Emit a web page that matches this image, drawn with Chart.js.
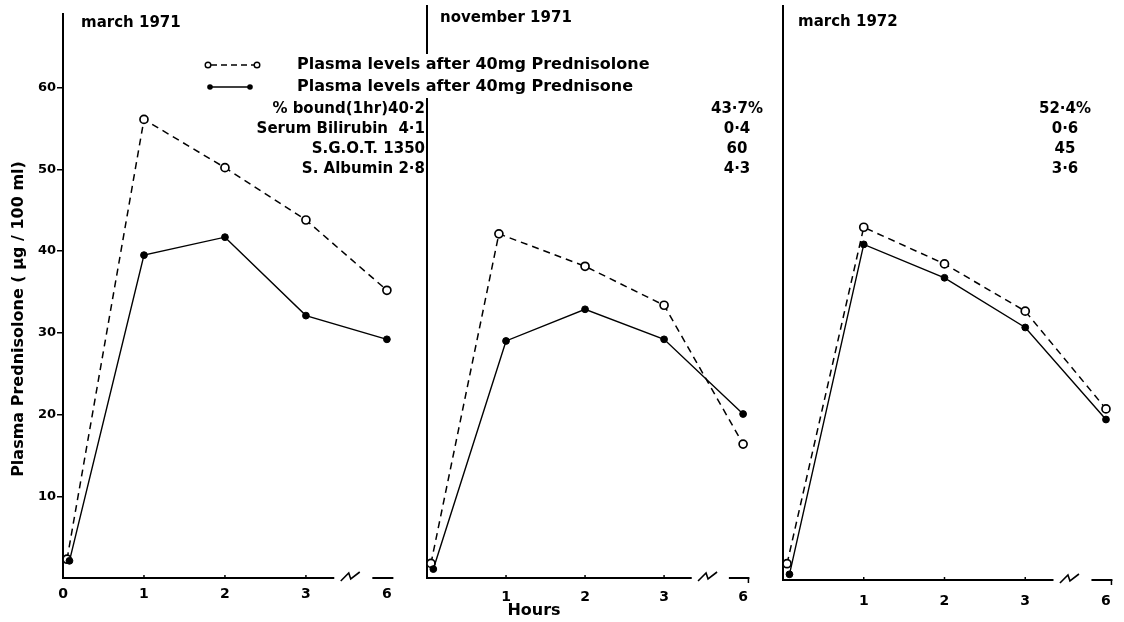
<!DOCTYPE html>
<html>
<head>
<meta charset="utf-8">
<script src="https://cdn.jsdelivr.net/npm/chart.js@4.4.0/dist/chart.umd.min.js"></script>
<style>
  html, body { margin: 0; padding: 0; background: #fff; overflow: hidden; }
  #wrap { position: relative; width: 1124px; height: 622px; background: #fff; }
  #wrap canvas { position: absolute; left: 0; top: 0; }
</style>
</head>
<body>
<div id="wrap">
  <canvas id="c3" width="1124" height="622"></canvas>
  <canvas id="c2" width="1124" height="622"></canvas>
  <canvas id="c1" width="1124" height="622"></canvas>
</div>
<script>
// ---------------- data ----------------
const hourLabels = ['0', '1', '2', '3', '6'];
const hourLabelsNoZero = ['', '1', '2', '3', '6'];
const prednisoloneHours = [0.05, 1, 2, 3, 6];
const prednisoneHours = [0.08, 1, 2, 3, 6];
const nov71PrednisoloneHours = [0.05, 0.91, 2, 3, 6];

const mar71Prednisolone = [2.3, 56.1, 50.2, 43.8, 35.2];
const mar71Prednisone   = [2.1, 39.5, 41.7, 32.1, 29.2];
const nov71Prednisolone = [1.8, 42.4, 38.4, 33.6, 16.5];
const nov71Prednisone   = [1.1, 29.2, 33.1, 29.4, 20.2];
const mar72Prednisolone = [2.0, 43.3, 38.8, 33.0, 21.0];
const mar72Prednisone   = [0.7, 41.2, 37.1, 31.0, 19.7];

const yTickValues = [10, 20, 30, 40, 50, 60];
const panelTitles = ['march 1971', 'november 1971', 'march 1972'];
const seriesLabels = ['Plasma levels after 40mg Prednisolone', 'Plasma levels after 40mg Prednisone'];
const boundPct   = ['% bound(1hr)40·2', '43·7%', '52·4%'];
const bilirubin  = ['Serum Bilirubin  4·1', '0·4', '0·6'];
const sgot       = ['S.G.O.T. 1350', '60', '45'];
const albumin    = ['S. Albumin 2·8', '4·3', '3·6'];
const yAxisTitle = 'Plasma Prednisolone ( µg / 100 ml)';
const xAxisTitle = 'Hours';

// ---------------- helpers ----------------
const FONT = '"DejaVu Sans", "Open Sans", sans-serif';
// broken time axis: hours beyond 3 are compressed so 6 h sits one step after 3 h
function axisPos(h) { return h <= 3 ? h : 3 + (h - 3) / 3; }
function pts(hours, vals) { return vals.map((v, i) => ({ x: axisPos(hours[i]), y: v })); }

const decor = {
  id: 'decor',
  afterDraw(chart, args, o) {
    const ctx = chart.ctx;
    const xs = chart.scales.x, ys = chart.scales.y;
    const y0 = ys.getPixelForValue(0);
    ctx.save();
    ctx.strokeStyle = '#000';
    ctx.fillStyle = '#000';
    ctx.lineCap = 'butt';
    // x axis (broken)
    ctx.lineWidth = 2;
    ctx.beginPath();
    ctx.moveTo(xs.getPixelForValue(0) - 1, y0);
    ctx.lineTo(xs.getPixelForValue(3.35), y0);
    ctx.stroke();
    ctx.lineWidth = 1.5;
    [1, 2, 3].forEach(v => {
      const px = xs.getPixelForValue(v);
      ctx.beginPath(); ctx.moveTo(px, y0); ctx.lineTo(px, y0 - 3); ctx.stroke();
    });
    // break mark
    const bx = xs.getPixelForValue(3.43);
    ctx.lineWidth = 1.6;
    ctx.beginPath();
    ctx.moveTo(bx, y0 + 3);
    ctx.lineTo(bx + 8, y0 - 5);
    ctx.lineTo(bx + 10, y0 + 1);
    ctx.lineTo(bx + 19, y0 - 6);
    ctx.stroke();
    // short segment up to 6 h
    ctx.lineWidth = 2;
    const sx = xs.getPixelForValue(3.82), ex = xs.getPixelForValue(4.08);
    ctx.beginPath(); ctx.moveTo(sx, y0); ctx.lineTo(ex, y0); ctx.stroke();
    if (o.endTick) {
      ctx.lineWidth = 1.5;
      ctx.beginPath(); ctx.moveTo(ex - 1, y0); ctx.lineTo(ex - 1, y0 + 5); ctx.stroke();
    }

    // legend + white mask (panel 1 canvas is on top)
    if (o.legend) {
      ctx.fillStyle = '#fff';
      ctx.fillRect(292, 54, 372, 44);
      ctx.fillStyle = '#000';
      // dashed symbol
      ctx.lineWidth = 1.4;
      ctx.setLineDash([6, 4]);
      ctx.beginPath(); ctx.moveTo(211, 65); ctx.lineTo(254, 65); ctx.stroke();
      ctx.setLineDash([]);
      [208, 257].forEach(cx => {
        ctx.beginPath(); ctx.arc(cx, 65, 2.8, 0, Math.PI * 2);
        ctx.fillStyle = '#fff'; ctx.fill(); ctx.lineWidth = 1.4; ctx.stroke();
      });
      ctx.fillStyle = '#000';
      ctx.lineWidth = 1.6;
      ctx.beginPath(); ctx.moveTo(210, 87); ctx.lineTo(250, 87); ctx.stroke();
      [210, 250].forEach(cx => { ctx.beginPath(); ctx.arc(cx, 87, 2.8, 0, Math.PI * 2); ctx.fill(); });
      ctx.font = 'bold 16px ' + FONT;
      ctx.textAlign = 'left'; ctx.textBaseline = 'middle';
      ctx.fillText(seriesLabels[0], 297, 65);
      ctx.fillText(seriesLabels[1], 297, 87);
      // y axis title
      ctx.save();
      ctx.translate(19, 319);
      ctx.rotate(-Math.PI / 2);
      ctx.textAlign = 'center';
      ctx.font = 'bold 16px ' + FONT;
      ctx.fillText(yAxisTitle, 0, 0);
      ctx.restore();
      // x axis title
      ctx.textAlign = 'center';
      ctx.font = 'bold 16px ' + FONT;
      ctx.fillText(xAxisTitle, 534, 611);
    }

    // panel title
    ctx.fillStyle = '#000';
    ctx.font = 'bold 15px ' + FONT;
    ctx.textAlign = 'left'; ctx.textBaseline = 'middle';
    ctx.fillText(o.title, o.titleX, o.titleY);
    // patient data column
    ctx.textAlign = o.infoAlign;
    const rows = [boundPct, bilirubin, sgot, albumin];
    rows.forEach((r, i) => ctx.fillText(r[o.index], o.infoX, 109 + i * 20));
    ctx.restore();
  }
};

function makeDatasets(hA, a, hB, b) {
  return [
    {
      label: seriesLabels[1], data: pts(hB, b), borderColor: '#000', borderWidth: 1.4,
      pointRadius: 3.4, pointBackgroundColor: '#000', pointBorderColor: '#000', pointBorderWidth: 1,
      fill: false, tension: 0, clip: false
    },
    {
      label: seriesLabels[0], data: pts(hA, a), borderColor: '#000', borderWidth: 1.5, borderDash: [7, 5],
      pointRadius: 4, pointBackgroundColor: '#fff', pointBorderColor: '#000', pointBorderWidth: 1.7,
      fill: false, tension: 0, clip: false
    }
  ];
}

// left/right/top/bottom = plot box in page pixels
function makePanel(canvasId, box, yMax, datasets, opts) {
  const yW = opts.showYTicks ? 45 : 0;
  const xH = 30;
  const xLabels = opts.xLabels;
  return new Chart(document.getElementById(canvasId), {
    type: 'line',
    data: { datasets },
    options: {
      responsive: false,
      animation: false,
      events: [],
      layout: { padding: { left: box.left - yW, right: 1124 - box.right, top: box.top, bottom: 622 - box.bottom - xH } },
      plugins: { legend: { display: false }, tooltip: { enabled: false }, decor: opts.decor },
      scales: {
        x: {
          type: 'linear', min: 0, max: 4.1,
          afterBuildTicks: s => { s.ticks = xLabels.map((l, i) => ({ value: i })); },
          afterFit: s => { s.height = xH; },
          grid: { display: false, drawTicks: false, tickLength: 0 },
          border: { display: false },
          ticks: {
            autoSkip: false, maxRotation: 0, padding: opts.xPad, color: '#000',
            font: { family: FONT, size: 14, weight: 'bold' },
            callback: (v, i) => xLabels[i]
          }
        },
        y: {
          type: 'linear', min: 0, max: yMax,
          afterBuildTicks: s => { s.ticks = opts.showYTicks ? yTickValues.map(v => ({ value: v })) : []; },
          afterFit: s => { s.width = yW; },
          grid: { display: opts.showYTicks, drawOnChartArea: false, drawTicks: true, tickLength: 6, color: '#000', lineWidth: 1.5 },
          border: { display: true, color: '#000', width: 2 },
          ticks: {
            display: opts.showYTicks, padding: 1, color: '#000',
            font: { family: FONT, size: 13, weight: 'bold' }
          }
        }
      }
    },
    plugins: [decor]
  });
}

makePanel('c3', { left: 783, right: 1118, top: 3, bottom: 580 }, 70.5,
  makeDatasets(prednisoloneHours, mar72Prednisolone, prednisoneHours, mar72Prednisone),
  { showYTicks: false, xLabels: hourLabelsNoZero, xPad: 13,
    decor: { title: panelTitles[2], titleX: 798, titleY: 22, index: 2, infoX: 1065, infoAlign: 'center', endTick: true } });

makePanel('c2', { left: 427, right: 751, top: 1, bottom: 578 }, 70.5,
  makeDatasets(nov71PrednisoloneHours, nov71Prednisolone, prednisoneHours, nov71Prednisone),
  { showYTicks: false, xLabels: hourLabelsNoZero, xPad: 11,
    decor: { title: panelTitles[1], titleX: 440, titleY: 18, index: 1, infoX: 737, infoAlign: 'center', endTick: true } });

makePanel('c1', { left: 63, right: 395, top: 14, bottom: 578 }, 69,
  makeDatasets(prednisoloneHours, mar71Prednisolone, prednisoneHours, mar71Prednisone),
  { showYTicks: true, xLabels: hourLabels, xPad: 8,
    decor: { title: panelTitles[0], titleX: 81, titleY: 23, index: 0, infoX: 425, infoAlign: 'right', endTick: false, legend: true } });
</script>
</body>
</html>
